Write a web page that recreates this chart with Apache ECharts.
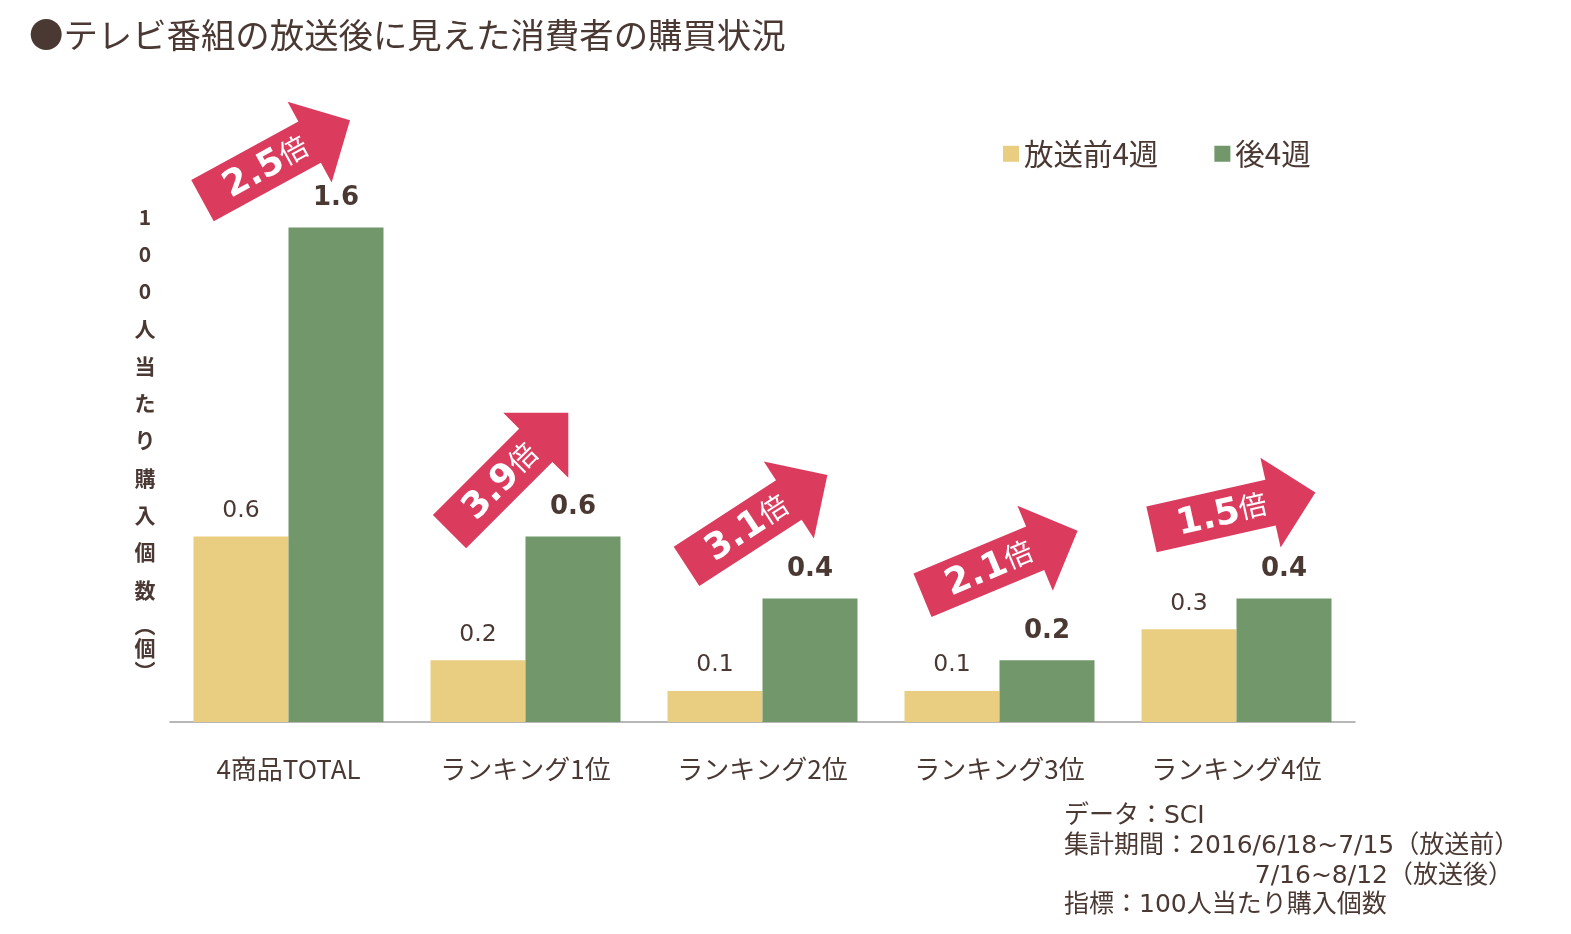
<!DOCTYPE html>
<html>
<head>
<meta charset="utf-8" />
<title>テレビ番組の放送後に見えた消費者の購買状況</title>
<script src="https://cdn.jsdelivr.net/npm/echarts@6/dist/echarts.min.js"></script>
<style>
	html, body { margin: 0; padding: 0; background: #fff; }
	#chart { width: 1571px; height: 934px; }
</style>
</head>
<body>
<div id="chart"></div>
<script type="text/javascript">
	// data
	var categories = ['4商品TOTAL', 'ランキング1位', 'ランキング2位', 'ランキング3位', 'ランキング4位'];
	var seriesNames = ['放送前4週', '後4週'];
	var beforeData = [0.6, 0.2, 0.1, 0.1, 0.3];
	var afterData = [1.6, 0.6, 0.4, 0.2, 0.4];
	var ratioLabels = ['2.5', '3.9', '3.1', '2.1', '1.5'];

	var titleText = '●テレビ番組の放送後に見えた消費者の購買状況';
	var yNameTop = ['1', '0', '0', '人', '当', 'た', 'り', '購', '入', '個', '数'];
	var yNameEnd = ['︵', '個', '︶'];
	var notes = ['データ：SCI', '集計期間：2016/6/18~7/15（放送前）', '7/16~8/12（放送後）', '指標：100人当たり購入個数'];

	// arrow placement (style): offset from category centre / top of green bar, angle in degrees
	var arrowDx = [-86, -76, -76, -77, -85];
	var arrowDy = [-27, -5, -32, -65, -69];
	var arrowDeg = [28.6, 45, 33, 22.6, 12.7];

	var FONT = '"Noto Sans CJK JP", "Noto Sans", sans-serif';
	var LATIN = '"DejaVu Sans", "Noto Sans CJK JP", sans-serif';
	var DARK = '#4a3833';
	var YELLOW = '#e9cd80';
	var GREEN = '#71976a';
	var RED = '#db3c5e';

	var myChart = echarts.init(document.getElementById('chart'));

	var option = {
		backgroundColor: '#fff',
		animation: false,
		textStyle: { fontFamily: FONT, color: DARK },
		title: {
			text: titleText,
			left: 24,
			top: 13,
			textStyle: { fontFamily: FONT, fontSize: 34.4, fontWeight: 'normal', color: DARK }
		},
		legend: {
			data: seriesNames,
			left: 998,
			top: 134,
			itemWidth: 16,
			itemHeight: 16,
			itemGap: 56,
			icon: 'rect',
			textStyle: { fontFamily: FONT, fontSize: 29.5, color: DARK }
		},
		grid: { left: 170, right: 216, top: 104, bottom: 212 },
		xAxis: [{
			type: 'category',
			data: categories,
			axisLine: { lineStyle: { color: '#a0a0a0', width: 1.5 } },
			axisTick: { show: false },
			axisLabel: { margin: 34, fontFamily: FONT, fontSize: 26, color: DARK }
		}],
		yAxis: [{
			type: 'value',
			min: 0,
			max: 2,
			show: false,
			splitLine: { show: false }
		}],
		series: [{
			name: seriesNames[0],
			type: 'bar',
			data: beforeData,
			barWidth: 95,
			barGap: '0%',
			itemStyle: { color: YELLOW },
			label: {
				show: true,
				position: 'top',
				distance: 14,
				fontFamily: LATIN,
				fontSize: 23.5,
				color: DARK,
				formatter: function(p) { return p.value.toFixed(1); }
			}
		}, {
			name: seriesNames[1],
			type: 'bar',
			data: afterData,
			barWidth: 95,
			barGap: '0%',
			itemStyle: { color: GREEN },
			label: {
				show: true,
				position: 'top',
				distance: 16,
				fontFamily: LATIN,
				fontSize: 26,
				fontWeight: 'bold',
				color: DARK,
				formatter: function(p) { return p.value.toFixed(1); }
			}
		}]
	};

	myChart.setOption(option);

	// annotations built from the axes
	var graphics = [];

	graphics.push({
		type: 'text',
		x: 145,
		y: 198,
		style: {
			text: yNameTop.join('\n'),
			font: 'bold 21px ' + FONT,
			fill: DARK,
			align: 'center',
			verticalAlign: 'top',
			lineHeight: 37.3
		}
	});
	graphics.push({
		type: 'text',
		x: 145,
		y: 648,
		style: {
			text: yNameEnd.join('\n'),
			font: 'bold 21px ' + FONT,
			fill: DARK,
			align: 'center',
			verticalAlign: 'middle',
			lineHeight: 23
		}
	});

	for (var i = 0; i < categories.length; i++) {
		var pt = myChart.convertToPixel({ gridIndex: 0 }, [i, afterData[i]]);
		var bw = 23.5, hw = 46, len = 168, hl = 46;
		graphics.push({
			type: 'group',
			x: pt[0] + arrowDx[i],
			y: pt[1] + arrowDy[i],
			rotation: arrowDeg[i] * Math.PI / 180,
			children: [{
				type: 'polygon',
				shape: {
					points: [[0, -bw], [len - hl, -bw], [len - hl, -hw], [len, 0], [len - hl, hw], [len - hl, bw], [0, bw]]
				},
				style: { fill: RED }
			}, {
				type: 'text',
				x: 72,
				y: 2,
				style: {
					text: '{n|' + ratioLabels[i] + '}{b|倍}',
					align: 'center',
					verticalAlign: 'middle',
					fill: '#fff',
					rich: {
						n: { font: 'bold 36px ' + LATIN, fill: '#fff' },
						b: { font: 'normal 28px ' + FONT, fill: '#fff', padding: [0, 0, 6, 0] }
					}
				}
			}]
		});
	}

	var noteY = [816, 846, 876, 905];
	for (var k = 0; k < notes.length; k++) {
		graphics.push({
			type: 'text',
			x: k === 2 ? 1513 : 1064,
			y: noteY[k],
			style: {
				text: notes[k],
				font: 'normal 25px ' + LATIN,
				fill: DARK,
				align: k === 2 ? 'right' : 'left',
				verticalAlign: 'middle'
			}
		});
	}

	myChart.setOption({ graphic: graphics });
</script>
</body>
</html>
